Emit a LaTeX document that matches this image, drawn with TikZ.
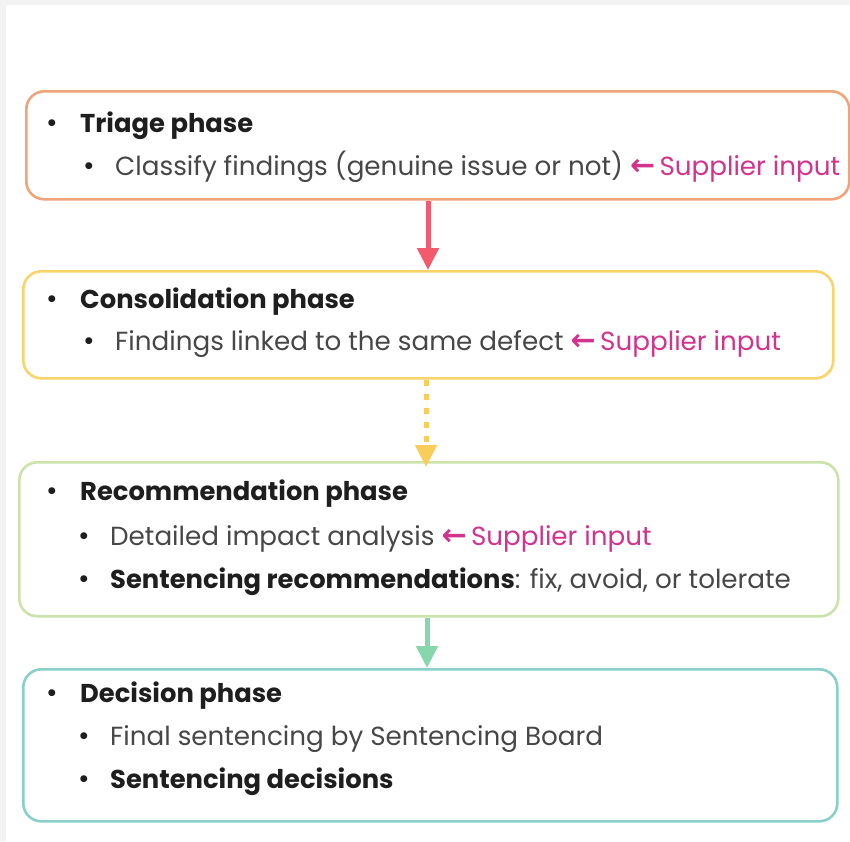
\documentclass[tikz,border=0pt]{standalone}
\usepackage{fontspec}
\setmainfont{Poppins}
\newfontfamily\arrowfont{DejaVu Sans}
\usetikzlibrary{arrows.meta}
\definecolor{bgGray}{HTML}{F2F2F2}
\definecolor{cOrange}{HTML}{F0A47A}
\definecolor{cYellow}{HTML}{F9D46A}
\definecolor{cGreen}{HTML}{CBE3AB}
\definecolor{cTeal}{HTML}{88D0C9}
\definecolor{aRed}{HTML}{F45A6E}
\definecolor{aYellow}{HTML}{F9CD5A}
\definecolor{aGreen}{HTML}{88D6AC}
\definecolor{cMag}{HTML}{D2338C}
\definecolor{tDark}{HTML}{1E1E1E}
\definecolor{tGray}{HTML}{474747}
\tikzset{
  phasebox/.style={draw, line width=2.6pt, rounded corners=18pt, inner sep=0pt, anchor=north west},
  lbl/.style={anchor=base west, inner sep=0pt, font=\fontsize{26.2}{30}\selectfont},
  head/.style={lbl, text=tDark, font=\fontsize{25.8}{30}\selectfont\bfseries},
  sub/.style={lbl, text=tGray},
  bul/.style={anchor=base, inner sep=0pt, text=tDark, font=\fontsize{28}{30}\selectfont},
  flow/.style={line width=5pt, -{Triangle[width=21pt,length=22pt]}},
}
\newcommand{\supin}{\textcolor{cMag}{{\arrowfont\bfseries\fontsize{30}{30}\selectfont ←}\,Supplier input}}
\begin{document}
\begin{tikzpicture}[x=1pt,y=-1pt]
\useasboundingbox (0,0) rectangle (850,841);
\fill[bgGray] (0,0) rectangle (850,841);
\fill[white] (6,5) rectangle (850,841);
% boxes
\node[phasebox, draw=cOrange, minimum width=823pt, minimum height=108pt] (b1) at (25,90) {};
\node[phasebox, draw=cYellow, minimum width=810pt, minimum height=107pt] (b2) at (22,270) {};
\node[phasebox, draw=cGreen, minimum width=819pt, minimum height=154pt] (b3) at (18,461) {};
\node[phasebox, draw=cTeal, minimum width=814pt, minimum height=152pt] (b4) at (22,668) {};
% box 1
\node[bul] (d1) at (52,132) {•};
\node[head] (h1) at (80,132) {Triage phase};
\node[bul] (d1a) at (89,175) {•};
\node[sub] (t1a) at (115,175) {Classify findings (genuine issue or not) \supin};
% box 2
\node[bul] (d2) at (52,308) {•};
\node[head] (h2) at (80,308) {Consolidation phase};
\node[bul] (d2a) at (89,350) {•};
\node[sub] (t2a) at (115,350) {Findings linked to the same defect \supin};
% box 3
\node[bul] (d3) at (52,500) {•};
\node[head] (h3) at (80,500) {Recommendation phase};
\node[bul] (d3a) at (84,545) {•};
\node[sub] (t3a) at (110,545) {Detailed impact analysis \supin};
\node[bul] (d3b) at (84,588) {•};
\node[sub] (t3b) at (110,588) {\textcolor{tDark}{\bfseries\fontsize{25.8}{30}\selectfont Sentencing recommendations}: fix, avoid, or tolerate};
% box 4
\node[bul] (d4) at (52,702) {•};
\node[head] (h4) at (80,702) {Decision phase};
\node[bul] (d4a) at (84,745) {•};
\node[sub] (t4a) at (110,745) {Final sentencing by Sentencing Board};
\node[bul] (d4b) at (84,788) {•};
\node[sub] (t4b) at (110,788) {\textcolor{tDark}{\bfseries\fontsize{25.8}{30}\selectfont Sentencing decisions}};
% arrows
\draw[flow, draw=aRed, fill=aRed] (b1.south -| 428,0) -- (b2.north -| 428,0);
\draw[flow, draw=aYellow, fill=aYellow, dash pattern=on 6pt off 8pt] (b2.south -| 426,0) -- ([yshift=-6pt]b3.north -| 426,0);
\draw[flow, draw=aGreen, fill=aGreen] (b3.south -| 427,0) -- (b4.north -| 427,0);
\end{tikzpicture}
\end{document}
